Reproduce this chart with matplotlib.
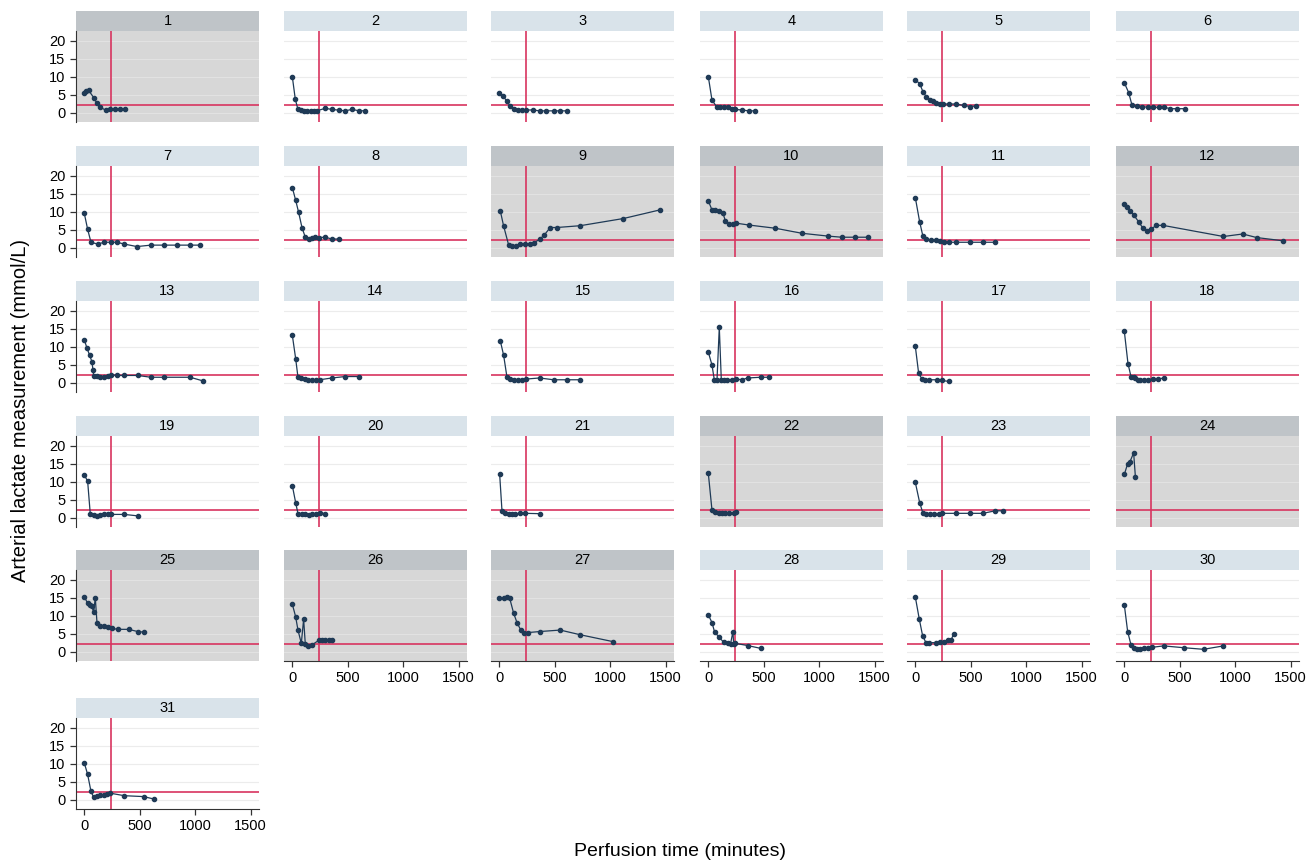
import matplotlib
matplotlib.use("Agg")
import matplotlib.pyplot as plt
from matplotlib.patches import Rectangle

plt.rcParams['font.family'] = ['Liberation Sans', 'DejaVu Sans']

# perfusion time (min) and arterial lactate (mmol/L) per patient
t01 = [0, 18, 39, 84, 114, 144, 198, 234, 279, 324, 369]
y01 = [5.6, 6.0, 6.2, 4.2, 2.6, 1.5, 0.6, 0.9, 1.0, 1.0, 1.0]
t02 = [0, 27, 51, 75, 105, 135, 165, 195, 225, 297, 357, 417, 477, 537, 597, 657]
y02 = [10.0, 3.7, 0.9, 0.6, 0.55, 0.55, 0.55, 0.55, 0.55, 1.2, 0.9, 0.7, 0.5, 0.9, 0.55, 0.5]
t03 = [0, 33, 69, 99, 129, 165, 204, 243, 303, 363, 423, 489, 549, 609]
y03 = [5.4, 4.7, 3.1, 1.85, 1.1, 0.74, 0.74, 0.74, 0.74, 0.5, 0.5, 0.5, 0.5, 0.5]
t04 = [0, 33, 78, 108, 138, 174, 213, 243, 303, 363, 423]
y04 = [10.0, 3.5, 1.5, 1.5, 1.5, 1.5, 1.1, 0.9, 0.74, 0.5, 0.5]
t05 = [0, 39, 69, 99, 129, 159, 189, 219, 249, 300, 369, 435, 495, 549]
y05 = [9.1, 8.1, 5.8, 4.4, 3.5, 3.1, 2.6, 2.4, 2.4, 2.4, 2.4, 2.0, 1.7, 1.85]
t06 = [0, 39, 69, 114, 159, 210, 258, 309, 360, 414, 474, 549]
y06 = [8.3, 5.6, 2.1, 1.85, 1.7, 1.5, 1.5, 1.5, 1.5, 1.1, 1.1, 1.1]
t07 = [0, 30, 60, 120, 180, 240, 294, 360, 474, 600, 714, 834, 954, 1044]
y07 = [9.5, 5.1, 1.5, 1.0, 1.5, 1.5, 1.5, 1.0, 0.3, 0.7, 0.7, 0.7, 0.7, 0.7]
t08 = [0, 30, 57, 87, 117, 147, 177, 207, 237, 297, 357, 417]
y08 = [16.7, 13.2, 9.8, 5.6, 2.9, 2.4, 2.6, 2.9, 2.8, 2.9, 2.4, 2.4]
t09 = [9, 39, 84, 114, 153, 189, 234, 273, 315, 363, 405, 459, 519, 729, 1119, 1449]
y09 = [10.2, 6.0, 0.74, 0.55, 0.55, 0.9, 0.9, 1.0, 1.4, 2.3, 3.5, 5.6, 5.6, 6.1, 8.1, 10.5]
t10 = [0, 33, 63, 93, 132, 153, 183, 222, 252, 363, 603, 843, 1083, 1203, 1323, 1443]
y10 = [13.0, 10.5, 10.6, 10.3, 9.6, 7.5, 6.6, 6.6, 6.8, 6.3, 5.4, 4.0, 3.2, 2.9, 2.9, 2.9]
t11 = [0, 39, 69, 99, 141, 189, 219, 255, 300, 369, 489, 609, 720]
y11 = [13.9, 7.2, 3.1, 2.4, 2.1, 2.1, 1.9, 1.7, 1.5, 1.5, 1.5, 1.5, 1.5]
t12 = [0, 24, 54, 84, 129, 168, 204, 240, 288, 348, 894, 1068, 1194, 1434]
y12 = [12.1, 11.4, 10.3, 9.1, 7.2, 5.4, 4.7, 5.1, 6.2, 6.2, 3.1, 3.8, 2.8, 1.9]
t13 = [0, 24, 48, 69, 78, 84, 114, 144, 180, 210, 240, 294, 360, 480, 600, 714, 954, 1074]
y13 = [11.9, 9.6, 7.6, 5.8, 3.5, 1.9, 1.9, 1.5, 1.5, 1.9, 2.2, 2.0, 2.0, 2.0, 1.5, 1.5, 1.5, 0.45]
t14 = [0, 30, 51, 81, 111, 141, 177, 216, 246, 357, 477, 597]
y14 = [13.2, 6.7, 1.5, 1.35, 1.0, 0.8, 0.8, 0.8, 0.8, 1.3, 1.7, 1.7]
t15 = [9, 39, 69, 99, 129, 165, 204, 243, 363, 489, 609, 723]
y15 = [11.6, 7.6, 1.5, 1.0, 0.8, 0.8, 0.8, 1.0, 1.3, 0.8, 0.8, 0.8]
t16 = [0, 33, 54, 78, 99, 117, 138, 168, 213, 252, 303, 354, 474, 543]
y16 = [8.5, 4.9, 0.8, 0.6, 15.4, 0.8, 0.8, 0.8, 0.8, 1.0, 0.8, 1.3, 1.5, 1.5]
t17 = [0, 30, 60, 90, 120, 195, 240, 300]
y17 = [10.1, 2.6, 1.0, 0.8, 0.8, 0.8, 0.6, 0.35]
t18 = [0, 33, 60, 84, 99, 120, 144, 174, 210, 258, 303, 354]
y18 = [14.3, 5.3, 1.7, 1.5, 1.2, 0.8, 0.6, 0.6, 0.8, 1.0, 1.0, 1.3]
t19 = [0, 30, 54, 84, 114, 144, 180, 210, 240, 360, 480]
y19 = [11.9, 10.1, 0.9, 0.7, 0.5, 0.65, 0.9, 0.9, 0.9, 0.9, 0.5]
t20 = [0, 30, 51, 87, 117, 147, 177, 216, 246, 297]
y20 = [8.9, 4.2, 1.1, 1.1, 1.1, 0.75, 0.9, 1.1, 1.4, 1.1]
t21 = [3, 24, 54, 84, 114, 144, 189, 234, 369]
y21 = [12.1, 1.9, 1.4, 1.1, 0.9, 1.1, 1.2, 1.2, 1.1]
t22 = [0, 33, 63, 93, 123, 153, 183, 228, 252]
y22 = [12.3, 2.1, 1.7, 1.4, 1.2, 1.2, 1.2, 1.4, 1.7]
t23 = [0, 39, 69, 99, 135, 171, 210, 240, 369, 489, 609, 720, 789]
y23 = [9.8, 4.2, 1.2, 0.9, 0.9, 0.9, 1.1, 1.2, 1.2, 1.2, 1.2, 1.9, 1.9]
t24 = [0, 30, 50, 84, 100]
y24 = [12.0, 15.0, 15.5, 18.0, 11.3]
t25 = [0, 30, 48, 69, 84, 99, 114, 144, 180, 210, 249, 300, 399, 480, 540]
y25 = [15.3, 13.4, 12.9, 12.6, 10.9, 15.0, 8.1, 7.2, 7.0, 6.8, 6.5, 6.2, 6.2, 5.6, 5.4]
t26 = [0, 30, 51, 81, 102, 117, 138, 177, 237, 267, 297, 327, 357]
y26 = [13.2, 9.7, 6.0, 2.3, 9.0, 2.1, 1.7, 1.9, 3.1, 3.3, 3.1, 3.1, 3.1]
t27 = [0, 39, 69, 93, 129, 159, 195, 219, 255, 369, 549, 729, 1023]
y27 = [14.9, 14.9, 15.1, 14.9, 10.7, 8.1, 5.9, 5.3, 5.3, 5.6, 6.0, 4.7, 2.8]
t28 = [0, 33, 57, 93, 138, 174, 200, 222, 228, 245, 354, 474]
y28 = [10.2, 8.1, 5.4, 4.2, 2.6, 2.3, 2.1, 5.6, 2.2, 2.3, 1.7, 0.9]
t29 = [0, 36, 66, 96, 126, 189, 225, 255, 291, 321, 345]
y29 = [15.2, 9.0, 4.4, 2.5, 2.5, 2.5, 2.8, 2.8, 3.1, 3.1, 4.9]
t30 = [0, 30, 60, 84, 114, 144, 174, 210, 249, 354, 534, 714, 894]
y30 = [13.0, 5.6, 1.9, 0.9, 0.75, 0.75, 0.9, 1.1, 1.2, 1.6, 1.1, 0.65, 1.6]
t31 = [0, 30, 60, 84, 114, 144, 174, 204, 234, 360, 534, 624]
y31 = [10.2, 7.0, 2.3, 0.65, 1.1, 1.3, 1.4, 1.6, 1.8, 1.1, 0.85, 0.2]

times = [t01, t02, t03, t04, t05, t06, t07, t08, t09, t10, t11, t12, t13, t14, t15, t16,
         t17, t18, t19, t20, t21, t22, t23, t24, t25, t26, t27, t28, t29, t30, t31]
lactate = [y01, y02, y03, y04, y05, y06, y07, y08, y09, y10, y11, y12, y13, y14, y15, y16,
           y17, y18, y19, y20, y21, y22, y23, y24, y25, y26, y27, y28, y29, y30, y31]

shaded = [1, 9, 10, 12, 22, 24, 25, 26, 27]
bottom_row = [26, 27, 28, 29, 30, 31]
time_cut = 240
lactate_cut = 2
yticks = [0, 5, 10, 15, 20]
xticks = [0, 500, 1000, 1500]

W, H = 1307, 864
col_left = [76, 284, 491, 700, 907, 1116]
row_top = [31, 166, 301, 436, 570, 718]
pw, ph, hh = 183, 91, 20

navy = '#1f3a56'
red = '#d8345f'

fig = plt.figure(figsize=(W / 100, H / 100), dpi=100)

for i, (t, y) in enumerate(zip(times, lactate)):
    pid = i + 1
    row, col = divmod(i, 6)
    ax = fig.add_axes([col_left[col] / W, 1 - (row_top[row] + ph) / H, pw / W, ph / H])
    gray = pid in shaded
    ax.set_facecolor('#d7d7d7' if gray else 'white')
    ax.set_xlim(-75, 1575)
    ax.set_ylim(-2.6, 22.7)
    ax.set_yticks(yticks)
    ax.set_xticks(xticks)
    ax.grid(axis='y', color='#e2e2e2' if gray else '#ececec', lw=0.8)
    ax.set_axisbelow(True)
    for s in ax.spines.values():
        s.set_visible(False)

    ax.axvline(time_cut, color=red, lw=1.2, zorder=2)
    ax.axhline(lactate_cut, color=red, lw=1.2, zorder=2)
    ax.plot(t, y, color=navy, lw=0.9, marker='o', ms=3.0, mfc=navy, mec=navy, zorder=3)

    ax.tick_params(labelsize=10.5, color='#333333', length=4, width=0.9)
    if col == 0:
        ax.spines['left'].set_visible(True)
        ax.spines['left'].set_color('#333333')
    else:
        ax.tick_params(left=False, labelleft=False)
    if pid in bottom_row:
        ax.spines['bottom'].set_visible(True)
        ax.spines['bottom'].set_color('#333333')
    else:
        ax.tick_params(bottom=False, labelbottom=False)

    ax.add_patch(Rectangle((0, 1), 1, hh / ph, transform=ax.transAxes, clip_on=False,
                           facecolor='#bfc4c8' if gray else '#d9e3ea', edgecolor='none'))
    ax.text(0.5, 1 + hh / ph / 2, str(pid), transform=ax.transAxes,
            ha='center', va='center', fontsize=10.5)

fig.text(680 / W, 1 - 851 / H, 'Perfusion time (minutes)', ha='center', va='center', fontsize=14)
fig.text(21 / W, 1 - 410 / H, 'Arterial lactate measurement (mmol/L)', ha='center', va='center',
         rotation=90, fontsize=14.5)

fig.savefig('out.png', dpi=100)
